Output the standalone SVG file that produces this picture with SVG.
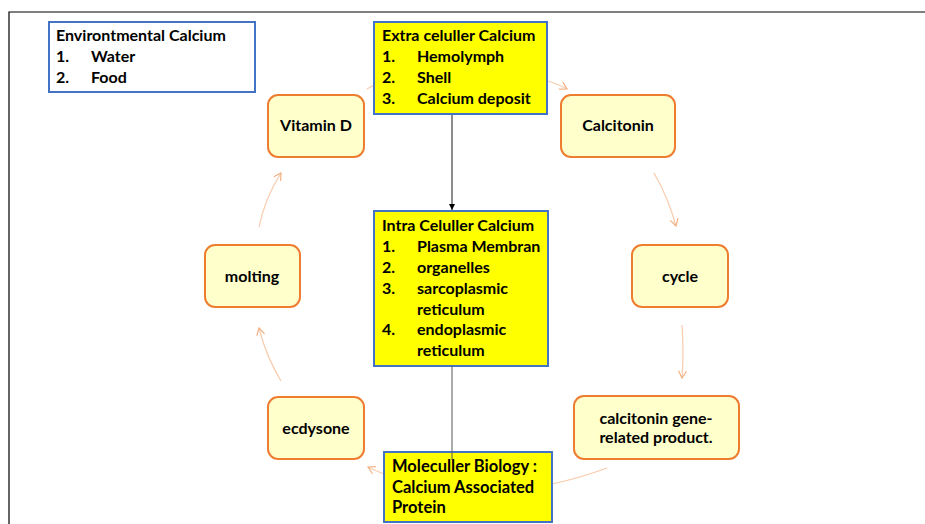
<svg xmlns="http://www.w3.org/2000/svg" width="925" height="524" viewBox="0 0 925 524">
<defs>
<style>
text{font-family:Lato,"Liberation Sans",sans-serif;font-weight:bold;font-size:16px;fill:#000}
.box{fill:#FFFF00;stroke:#4472C4;stroke-width:2}
.wbox{fill:#FFFFFF;stroke:#4472C4;stroke-width:2}
.rn{fill:#FFFFCC;stroke:#ED7D31;stroke-width:2}
.c{text-anchor:middle}
.arc{fill:none;stroke:#F8CBAD;stroke-width:1.2}
</style>
<marker id="oa" markerWidth="10" markerHeight="10" refX="8" refY="5" orient="auto" markerUnits="userSpaceOnUse">
<path d="M1,1 L8,5 L1,9" fill="none" stroke="#F4B183" stroke-width="1.2"/>
</marker>
<marker id="ba" markerWidth="8" markerHeight="8" refX="6" refY="4" orient="auto" markerUnits="userSpaceOnUse">
<path d="M0,1 L6,4 L0,7 Z" fill="#000"/>
</marker>
</defs>
<rect width="925" height="524" fill="#fff"/>
<path d="M9,524 V12 H925" fill="none" stroke="#000" stroke-width="1.2"/>

<g id="n-env">
<rect class="wbox" x="49" y="22" width="206" height="70"/>
<text x="56" y="41">Environtmental Calcium</text>
<text x="56" y="62">1.</text><text x="91" y="62">Water</text>
<text x="56" y="83">2.</text><text x="91" y="83">Food</text>
</g>

<g id="n-vitd">
<rect class="rn" x="268" y="95" width="96" height="62" rx="10"/>
<text class="c" x="316" y="131">Vitamin D</text>
</g>
<g id="n-calcitonin">
<rect class="rn" x="561" y="95" width="114" height="62" rx="10"/>
<text class="c" x="618" y="131">Calcitonin</text>
</g>
<g id="n-molting">
<rect class="rn" x="205" y="245" width="95" height="62" rx="10"/>
<text class="c" x="252" y="282">molting</text>
</g>
<g id="n-cycle">
<rect class="rn" x="632" y="245" width="96" height="62" rx="10"/>
<text class="c" x="680" y="282">cycle</text>
</g>
<g id="n-ecdysone">
<rect class="rn" x="268" y="397" width="96" height="62" rx="10"/>
<text class="c" x="316" y="434">ecdysone</text>
</g>
<g id="n-cgrp">
<rect class="rn" x="574" y="396" width="165" height="63" rx="10"/>
<text class="c" x="656" y="424">calcitonin gene-</text>
<text class="c" x="656" y="443">related product.</text>
</g>

<g id="connectors">
<path class="arc" d="M259,227 Q265,198 281,173" marker-end="url(#oa)"/>
<path class="arc" d="M367,89 L374,85"/>
<path class="arc" d="M548,81 Q558,84 567,89" marker-end="url(#oa)"/>
<path class="arc" d="M654,173 Q668,197 676,226" marker-end="url(#oa)"/>
<path class="arc" d="M682,325 Q684,352 682,378" marker-end="url(#oa)"/>
<path class="arc" d="M607,468 Q580,478 552,484"/>
<path class="arc" d="M384,474 Q376,471 368,467" marker-end="url(#oa)"/>
<path class="arc" d="M281,381 Q266,356 259,328" marker-end="url(#oa)"/>
<path d="M452,114 V210" fill="none" stroke="#404040" stroke-width="1.2" marker-end="url(#ba)"/>
</g>

<g id="n-extra">
<rect class="box" x="374" y="22" width="173" height="92"/>
<text x="382" y="41">Extra celuller Calcium</text>
<text x="382" y="62">1.</text><text x="417" y="62">Hemolymph</text>
<text x="382" y="83">2.</text><text x="417" y="83">Shell</text>
<text x="382" y="104">3.</text><text x="417" y="104">Calcium deposit</text>
</g>

<g id="n-intra">
<rect class="box" x="374" y="211" width="174" height="155"/>
<text x="382" y="231">Intra Celuller Calcium</text>
<text x="382" y="252">1.</text><text x="417" y="252">Plasma Membran</text>
<text x="382" y="273">2.</text><text x="417" y="273">organelles</text>
<text x="382" y="294">3.</text><text x="417" y="294">sarcoplasmic</text>
<text x="417" y="315">reticulum</text>
<text x="382" y="335">4.</text><text x="417" y="335">endoplasmic</text>
<text x="417" y="356">reticulum</text>
</g>

<g id="n-molecular">
<rect class="box" x="384" y="452" width="168" height="70"/>
<text x="392" y="472" style="font-size:16.5px">Moleculler Biology :</text>
<text x="392" y="493" style="font-size:16.5px">Calcium Associated</text>
<text x="392" y="513" style="font-size:16.5px">Protein</text>
</g>

<g id="connectors-front">
<path d="M452,366 V460" fill="none" stroke="#595959" stroke-width="1"/>
</g>
</svg>
